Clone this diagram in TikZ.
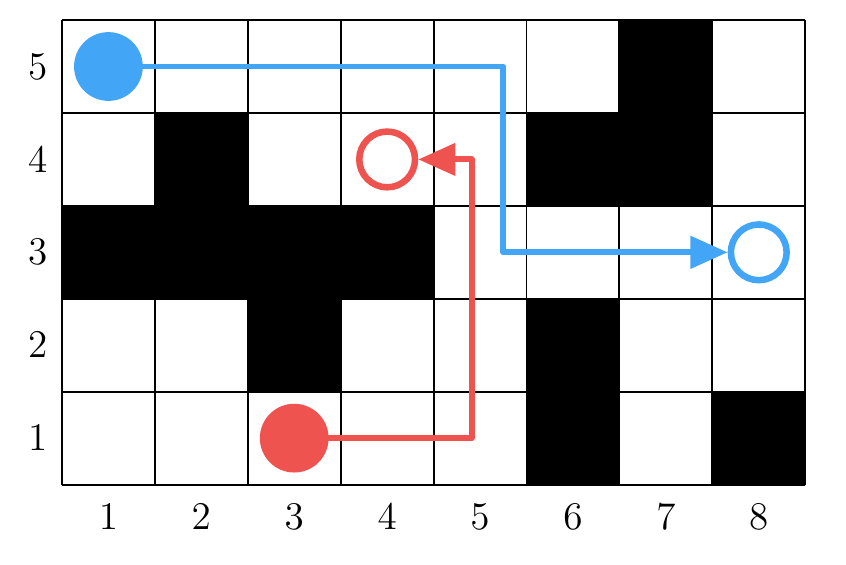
\documentclass[tikz,border=0pt]{standalone}
\usepackage{tikz}
\usetikzlibrary{arrows.meta, calc}

\definecolor{pathblue}{RGB}{66,165,245}
\definecolor{pathred}{RGB}{239,83,80}

\begin{document}
\begin{tikzpicture}[thick,
		start/.style={circle, fill=#1, inner sep=0pt, minimum size=0.74cm},
		goal/.style={circle, draw=#1, line width=2pt, inner sep=0pt, minimum size=0.6cm},
		route/.style={draw=#1, line width=1.8pt, -{Triangle[length=0.4cm, width=0.34cm]}},
		label/.style={font=\large}]
		\useasboundingbox (-0.167,-0.362) rectangle (8.939,5.716);

		% Blocked cells
		\foreach \cx/\cy in {7/5, 2/4, 6/4, 7/4, 1/3, 2/3, 3/3, 4/3, 3/2, 6/2, 6/1, 8/1}
			\fill (\cx-0.5,\cy-0.5) rectangle (\cx+0.5,\cy+0.5);

		% Grid
		\draw[line width=0.6pt, xshift=0.5cm, yshift=0.5cm] (0,0) grid (8,5);

		% Axis labels
		\foreach \cx in {1,...,8}
			\node[label] (col\cx) at (\cx, 0.15) {$\cx$};
		\foreach \cy in {1,...,5}
			\node[label] (row\cy) at (0.24, \cy) {$\cy$};

		% Blue route
		\node[start=pathblue] (bluestart) at (1,5) {};
		\node[goal=pathblue] (bluegoal) at (8,3) {};
		\coordinate (bluebendA) at (5.25,5);
		\coordinate (bluebendB) at (5.25,3);
		\draw[route=pathblue, line join=round] (bluestart.center) -- (bluebendA) -- (bluebendB) -- (bluegoal);

		% Red route
		\node[start=pathred] (redstart) at (3,1) {};
		\node[goal=pathred] (redgoal) at (4,4) {};
		\coordinate (redbendA) at (4.91,1);
		\coordinate (redbendB) at (4.91,4);
		\draw[route=pathred, line join=round] (redstart.center) -- (redbendA) -- (redbendB) -- (redgoal);
	\end{tikzpicture}
\end{document}
